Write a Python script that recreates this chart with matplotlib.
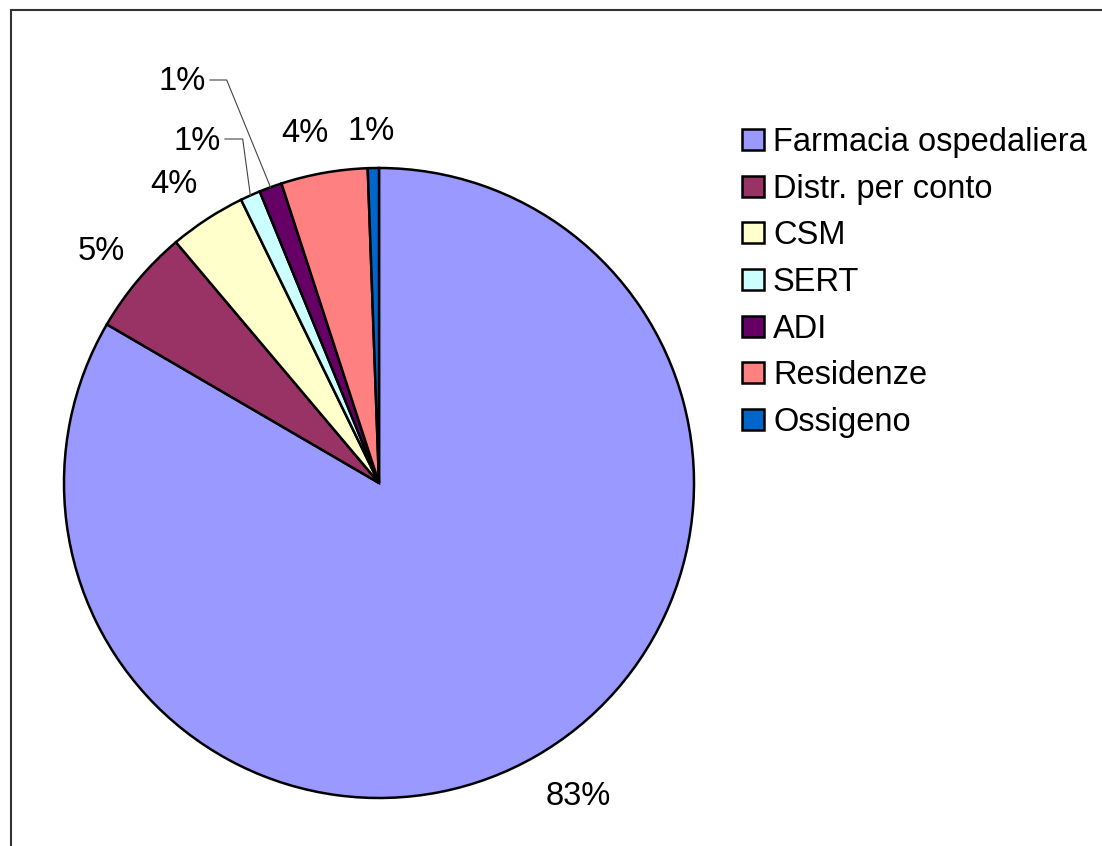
import numpy as np
import matplotlib
matplotlib.use("Agg")
import matplotlib.pyplot as plt
from matplotlib.lines import Line2D

categories = ["Farmacia ospedaliera", "Distr. per conto", "CSM", "SERT", "ADI", "Residenze", "Ossigeno"]
shares = [83.4, 5.45, 3.94, 1.03, 1.17, 4.44, 0.57]
colors = ["#9999FF", "#993366", "#FFFFCC", "#CCFFFF", "#660066", "#FF8080", "#0066CC"]

plt.rcParams['font.family'] = ['Liberation Sans', 'DejaVu Sans']

W, H = 1102, 846
fig = plt.figure(figsize=(W / 100, H / 100), dpi=100)
# pie centre and radius in pixels (x from left, y from top)
cx, cy, r = 379, 483, 315
ax = fig.add_axes([0, 0, 1, 1])


def px(x, y):
    # pixel (from top-left) -> data units of the pie axes
    return (x - cx) / r, (cy - y) / r


wedges, texts, autotexts = ax.pie(
    shares, colors=colors, startangle=90, counterclock=False,
    autopct='%.0f%%', pctdistance=1.15,
    wedgeprops=dict(edgecolor='black', linewidth=1.8),
    textprops=dict(fontsize=23.5, color='black'))

ax.set_aspect('auto')
ax.set_xlim(-cx / r, (W - cx) / r)
ax.set_ylim(-(H - cy) / r, cy / r)
ax.axis('off')

# label anchor points (centre x, baseline y), in pixels
label_pos = [(578, 805), (101.5, 260), (173.5, 192.5), (197, 149.5),
             (182.5, 90), (305, 141.5), (371.5, 140)]
for t, (x, y) in zip(autotexts, label_pos):
    t.set_position(px(x, y))
    t.set_ha('center')
    t.set_va('baseline')

# leader lines for the two thin slices
leaders = {3: [(225, 139), (242.7, 139)], 4: [(210, 80), (226.7, 80)]}
for i, pts in leaders.items():
    w = wedges[i]
    mid = np.deg2rad((w.theta1 + w.theta2) / 2)
    xs = [px(*p)[0] for p in pts] + [np.cos(mid)]
    ys = [px(*p)[1] for p in pts] + [np.sin(mid)]
    ax.plot(xs, ys, color='#444444', lw=0.8, solid_joinstyle='miter')

ax.legend(wedges, categories, loc='upper left',
          bbox_to_anchor=(742 / W, 1 - 127 / H), bbox_transform=fig.transFigure,
          frameon=False, fontsize=23.5, handlelength=0.67, handleheight=0.62,
          handletextpad=0.28, labelspacing=0.48, borderpad=0, borderaxespad=0)

# outer chart border (clipped at right and bottom)
fig.add_artist(Line2D([10.5 / W, 1], [1 - 10.5 / H] * 2, transform=fig.transFigure,
                      color='#333333', lw=1.5))
fig.add_artist(Line2D([10.5 / W] * 2, [0, 1 - 10.5 / H], transform=fig.transFigure,
                      color='#333333', lw=1.5))

fig.savefig("out.png", dpi=100)
